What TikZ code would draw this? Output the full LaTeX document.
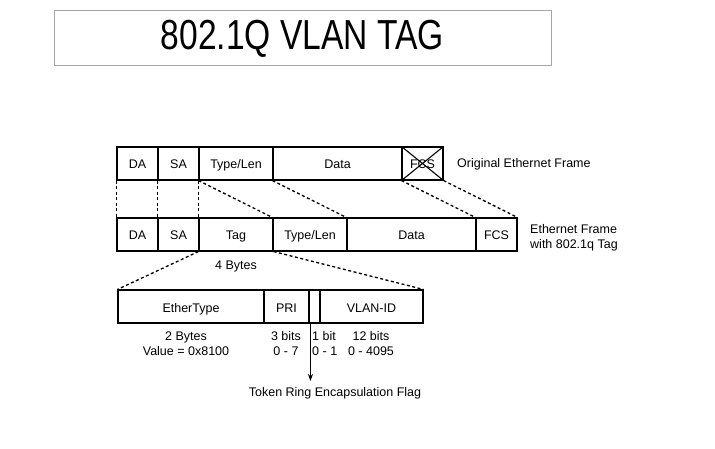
\documentclass[tikz,border=0pt]{standalone}
\usepackage{fontspec}
\setmainfont{Liberation Sans}
\usepackage{tikz}
\usetikzlibrary{arrows.meta,positioning,calc}
\tikzset{
	fld/.style={draw, line width=1.1pt, inner sep=0pt, minimum height=33pt,
		text height=12pt, text depth=1pt,
		align=center, font=\fontsize{12.5}{15}\selectfont},
	note/.style={inner sep=0pt, align=center, font=\fontsize{12.5}{15}\selectfont},
	map/.style={line width=1.3pt, dash pattern=on 3pt off 2.5pt},
}

\begin{document}
\begin{tikzpicture}[x=1pt, y=-1pt, >=latex]
				\useasboundingbox (0,0) rectangle (715,449);
				% title
				\node[draw=gray!70, line width=0.8pt, minimum width=497pt, minimum height=55pt] at (302.5,37.5) (ttl) {};
				\node[font=\fontsize{42}{42}\selectfont] at (302.5,39) (ttltxt) {\scalebox{0.8}[1]{802.1Q VLAN TAG}};
				% original frame
				\node[fld, minimum width=41pt] at (137.5,163.5) (da1) {DA};
				\node[fld, minimum width=41pt] at (178.5,163.5) (sa1) {SA};
				\node[fld, minimum width=74pt] at (236.0,163.5) (tl1) {Type/Len};
				\node[fld, minimum width=129pt] at (337.5,163.5) (dt1) {Data};
				\node[fld, minimum width=41pt] at (422.5,163.5) (fcs1) {FCS};
				\draw[line width=1.1pt] (fcs1.north west) -- (fcs1.south east);
				\draw[line width=1.1pt] (fcs1.south west) -- (fcs1.north east);
				\node[note, anchor=west] at (457,164) (orig) {Original Ethernet Frame};
				% tagged frame
				\node[fld, minimum width=41pt] at (137.5,234.5) (da2) {DA};
				\node[fld, minimum width=41pt] at (178.5,234.5) (sa2) {SA};
				\node[fld, minimum width=74pt] at (236.0,234.5) (tag) {Tag};
				\node[fld, minimum width=74pt] at (310.0,234.5) (tl2) {Type/Len};
				\node[fld, minimum width=129pt] at (411.5,234.5) (dt2) {Data};
				\node[fld, minimum width=41pt] at (496.5,234.5) (fcs2) {FCS};
				\node[note, anchor=west, align=left] at (530,237.5) (tagged) {Ethernet Frame\\with 802.1q Tag};
				\node[note] at (236,266) (tagsz) {4 Bytes};
				\draw[map] (da1.south west) -- (da2.north west);
				\draw[map] (sa1.south west) -- (sa2.north west);
				\draw[map] (tl1.south west) -- (tag.north west);
				\draw[map] (tl1.south west) -- (tl2.north west);
				\draw[map] (dt1.south west) -- (dt2.north west);
				\draw[map] (fcs1.south west) -- (fcs2.north west);
				\draw[map] (fcs1.south east) -- (fcs2.north east);
				% tag fields
				\node[fld, minimum width=146pt] at (191.0,306.5) (etype) {EtherType};
				\node[fld, minimum width=45pt] at (286.5,306.5) (pri) {PRI};
				\node[fld, minimum width=11pt] at (314.5,306.5) (cfi) {};
				\node[fld, minimum width=103pt] at (371.5,306.5) (vid) {VLAN-ID};
				\draw[map] (tag.south west) -- (etype.north west);
				\draw[map] (tag.south east) -- (vid.north east);
				\node[note] at (186,344) (etsz) {2 Bytes\\Value = 0x8100};
				\node[note] at (286,344) (prisz) {3 bits\\0 - 7};
				\node[note, anchor=west, align=left] at (312,344) (cfisz) {1 bit\\0 - 1};
				\node[note] at (371,344) (vidsz) {12 bits\\0 - 4095};
				\node[note] at (335,393) (flag) {Token Ring Encapsulation Flag};
				\draw[line width=1.1pt, -{Stealth[length=7pt, width=5pt]}] ([xshift=2pt]cfi.south west) -- ([xshift=2pt]cfi.south west |- 0,381);
			\end{tikzpicture}
\end{document}
